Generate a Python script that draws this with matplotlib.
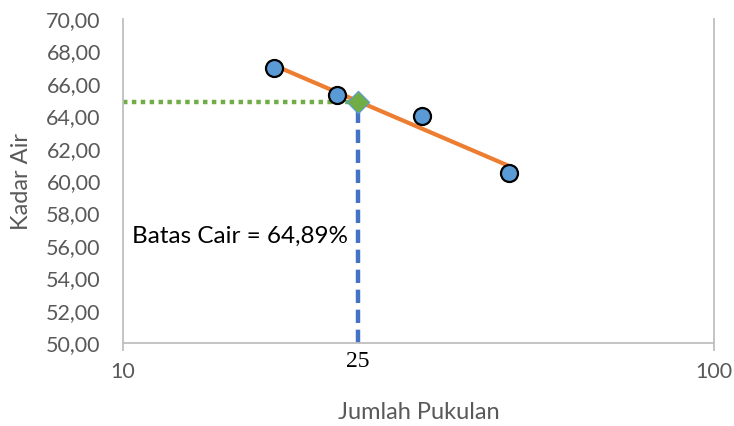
import numpy as np
import matplotlib
matplotlib.use("Agg")
import matplotlib.pyplot as plt
from matplotlib.ticker import FixedLocator, FuncFormatter, NullLocator

# Data
pukulan = [18, 23, 32, 45]
kadar_air = [67.0, 65.3, 64.0, 60.5]
target_pukulan = 25
batas_cair = 64.89
y_ticks = [50, 52, 54, 56, 58, 60, 62, 64, 66, 68, 70]
x_ticks = [10, 100]

plt.rcParams['font.family'] = ['Lato', 'DejaVu Sans']

fig = plt.figure(figsize=(7.34, 4.26), dpi=100)
ax = fig.add_axes([123/734, 83/426, (714-123)/734, (343-19)/426])

ax.set_xscale('log')
ax.set_xlim(10, 100)
ax.set_ylim(50, 70)

# trend line (log fit)
coef = np.polyfit(np.log10(pukulan), kadar_air, 1)
xs = np.array([min(pukulan), max(pukulan)])
ax.plot(xs, np.polyval(coef, np.log10(xs)), color='#ED7D31', lw=3, zorder=3, solid_capstyle='butt')

# guide lines
ax.plot([10, target_pukulan], [batas_cair, batas_cair], color='#70AD47', lw=3.2,
        linestyle=(0, (1, 1)), zorder=2)
ax.plot([target_pukulan, target_pukulan], [50, batas_cair], color='#4472C4', lw=3.2,
        linestyle=(0, (3, 1.5)), zorder=2)

ax.scatter(pukulan, kadar_air, s=150, color='#5B9BD5', edgecolors='black', linewidths=1.6, zorder=4)
ax.scatter([target_pukulan], [batas_cair], s=130, marker='D', color='#70AD47',
           edgecolors='#5B9BD5', linewidths=0.8, zorder=5)

ax.xaxis.set_major_locator(FixedLocator(x_ticks))
ax.xaxis.set_minor_locator(NullLocator())
ax.xaxis.set_major_formatter(FuncFormatter(lambda v, p: f"{v:.0f}"))
ax.yaxis.set_major_locator(FixedLocator(y_ticks))
ax.yaxis.set_major_formatter(FuncFormatter(lambda v, p: f"{v:.2f}".replace('.', ',')))

for s in ['left', 'right', 'bottom']:
    ax.spines[s].set_color('#BFBFBF')
    ax.spines[s].set_linewidth(1.3)
ax.spines['top'].set_visible(False)

ax.tick_params(axis='y', length=0, labelsize=15.5, labelcolor='#595959', pad=16)
ax.tick_params(axis='x', length=6, width=1.3, color='#BFBFBF', labelsize=15.5,
               labelcolor='#595959', pad=8)

ax.set_xlabel('Jumlah Pukulan', fontsize=17, color='#595959', labelpad=14)
ax.set_ylabel('Kadar Air', fontsize=17, color='#595959', labelpad=10)

ax.text(target_pukulan, 49.5, '25', family='Liberation Serif', fontsize=17, color='black',
        ha='center', va='top')
ax.text(10.35, 56.6, 'Batas Cair = 64,89%', fontsize=17.5, color='black', ha='left', va='center')

fig.savefig('out.png', dpi=100)
